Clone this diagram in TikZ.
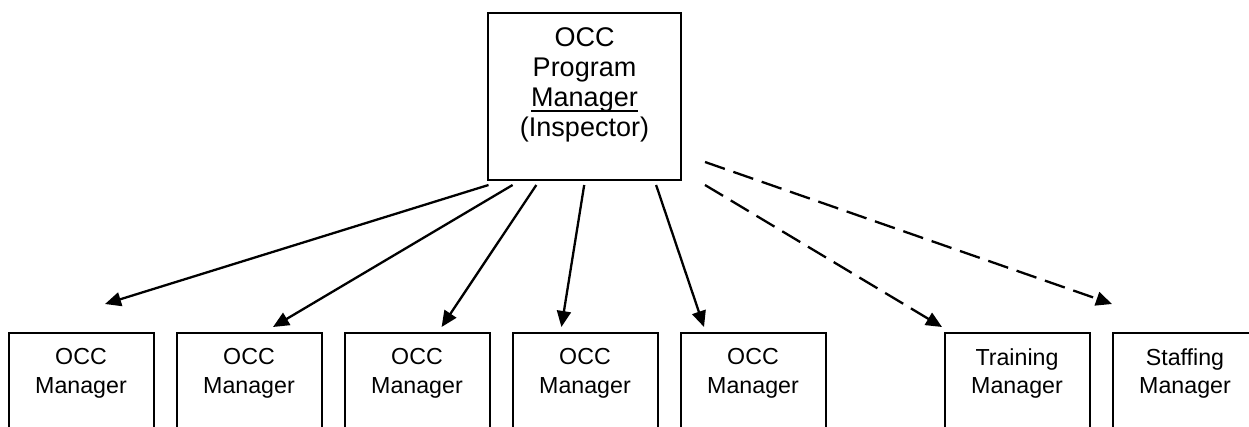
\documentclass[tikz,border=0pt]{standalone}
\usepackage{fontspec}
\setmainfont{Liberation Sans}
\usetikzlibrary{arrows.meta,calc}

% underline set just below the baseline, as wide as the word
\newcommand\ulword[1]{\setbox0\hbox{#1}\rlap{\rule[-5.6pt]{\wd0}{1.9pt}}#1}

\tikzset{
  box/.style={draw, line width=2pt, inner sep=0pt, minimum width=145pt},
  topbox/.style={box, minimum width=193pt, minimum height=167pt},
  unitbox/.style={box, minimum height=127pt},
  toptext/.style={anchor=north, inner sep=0pt, align=center,
    font=\fontsize{27}{30.3}\selectfont},
  unittext/.style={anchor=north, inner sep=0pt, align=center,
    font=\fontsize{23.2}{28.7}\selectfont},
  line/.style={line width=2.3pt, -{Triangle[length=16pt,width=14pt]}},
  dotted line/.style={line, dash pattern=on 21pt off 9pt},
}

\begin{document}
\begin{tikzpicture}[x=1pt, y=-1pt]
\path[use as bounding box, clip] (0,0) rectangle (1249,426);

% program manager
\node[topbox] (top) at (584.5,96.5) {};
\node[toptext] (toptx) at ($(top.north)+(0,15)$)
  {OCC\\Program\\\ulword{Manager}\\(Inspector)};

% managers in the row below
\foreach \i/\x/\txt in {1/81/OCC,2/249/OCC,3/417/OCC,4/585/OCC,5/753/OCC,
                         6/1017/Training,7/1185/Staffing}{
  \node[unitbox] (b\i) at (\x,396.5) {};
  \node[unittext] (t\i) at ($(b\i.north)+(0,16)$) {\txt\\Manager};
}

% start points below the program manager box
\coordinate (s1) at ($(top.south west)+(1.5,4)$);
\coordinate (s2) at ($(top.south west)+(25.6,4)$);
\coordinate (s3) at ($(top.south west)+(49.3,4)$);
\coordinate (s4) at ($(top.south west)+(97.2,4)$);
\coordinate (s5) at ($(top.south west)+(169.1,4)$);
\coordinate (s6) at ($(top.south east)+(23,4)$);
\coordinate (s7) at ($(top.south east)+(23,-19)$);

% end points above the managers
\coordinate (e1) at ($(b1.north)+(24,-28)$);
\coordinate (e2) at ($(b2.north)+(24,-5)$);
\coordinate (e3) at ($(b3.north)+(24.6,-5)$);
\coordinate (e4) at ($(b4.north)+(-23.6,-5)$);
\coordinate (e5) at ($(b5.north)+(-49,-5)$);
\coordinate (e6) at ($(b6.north west)+(-1.5,-5)$);
\coordinate (e7) at ($(b7.north west)+(0.5,-28)$);

\foreach \i in {1,...,5}{ \draw[line] (s\i) -- (e\i); }
\foreach \i in {6,7}{ \draw[dotted line] (s\i) -- (e\i); }
\end{tikzpicture}
\end{document}
